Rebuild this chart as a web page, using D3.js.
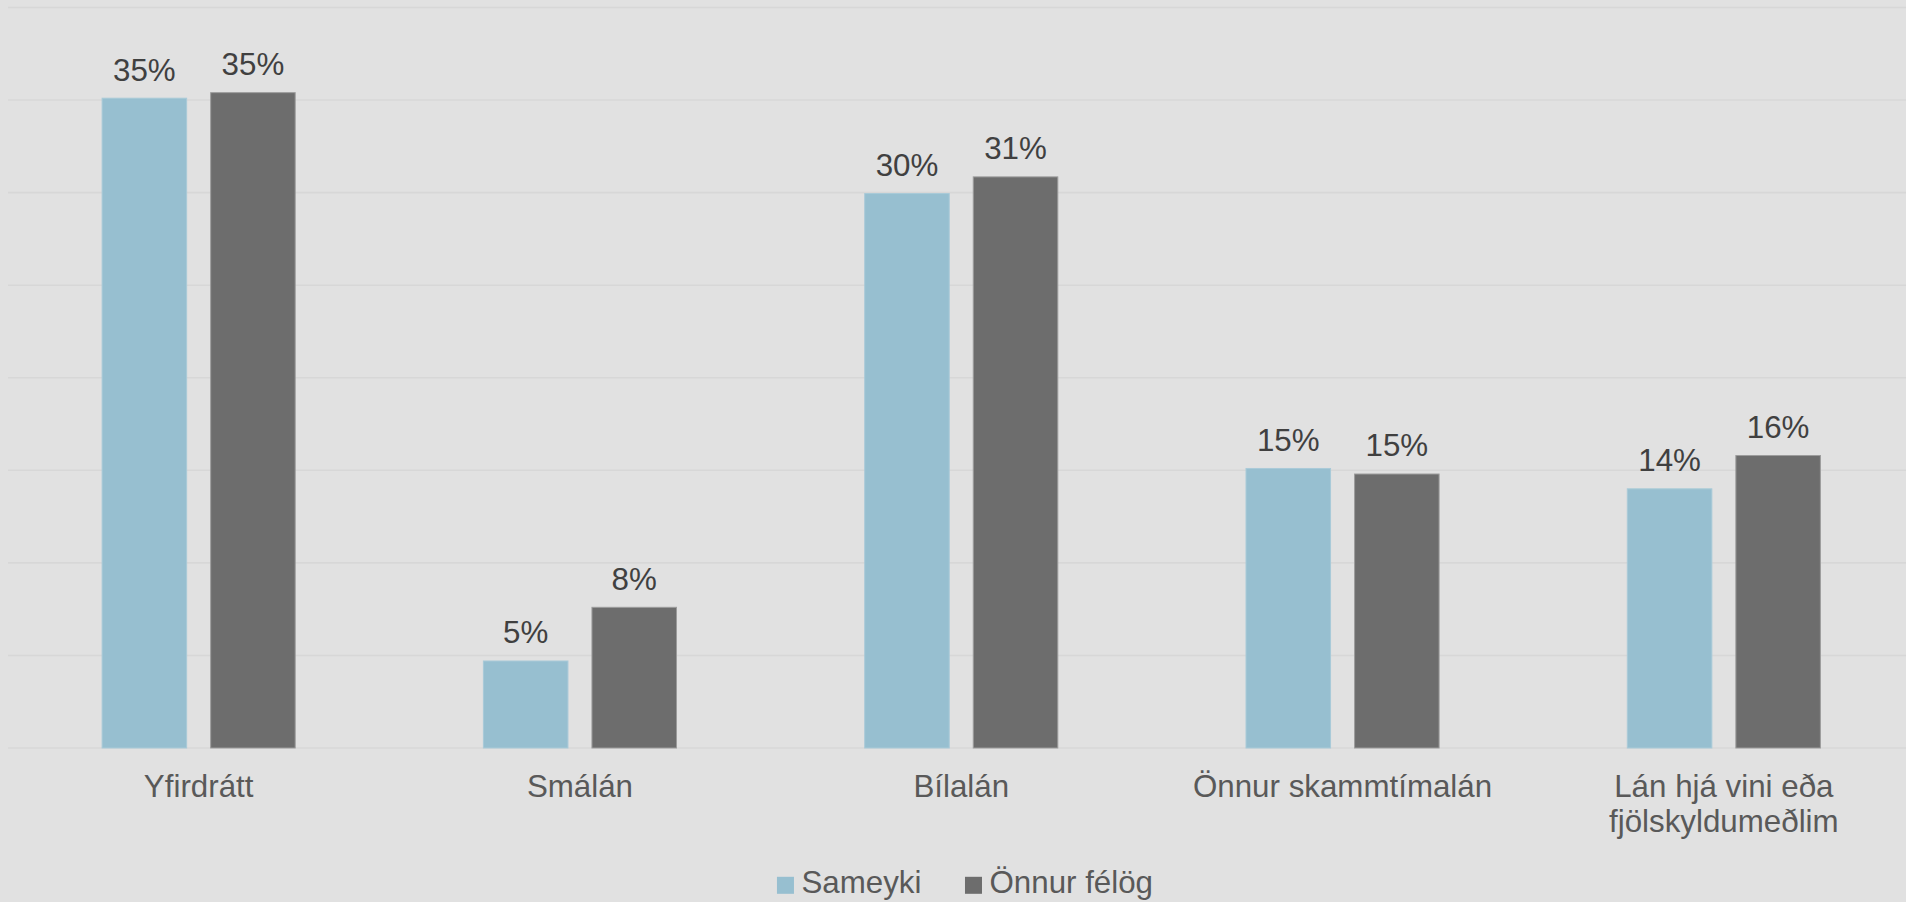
<!DOCTYPE html>
<html>
<head>
<meta charset="utf-8">
<script src="https://cdn.jsdelivr.net/npm/d3@7"></script>
<style>
  html, body { margin: 0; padding: 0; background: #e1e1e1; }
  svg { display: block; font-family: "Liberation Sans", Arial, sans-serif; }
</style>
</head>
<body>
<svg id="chart" width="1906" height="902"></svg>
<script>
const categories = ["Yfirdrátt", "Smálán", "Bílalán", "Önnur skammtímalán", "Lán hjá vini eða fjölskyldumeðlim"];
const seriesNames = ["Sameyki", "Önnur félög"];
const sameyki = [35.1, 4.7, 29.95, 15.1, 14.0];
const onnurFelog = [35.4, 7.6, 30.85, 14.8, 15.8];
const yTicks = [0, 5, 10, 15, 20, 25, 30, 35, 40];
const colors = ["#97bfd0", "#6d6d6d"];
const strokes = ["#a9cad8", "#9c9c9c"];

const W = 1906, H = 902;
const svg = d3.select("#chart");
svg.append("rect").attr("width", W).attr("height", H).attr("fill", "#e1e1e1");

const plotLeft = 8, step = 381.3;
const x0 = d3.scaleBand().domain(categories)
  .range([plotLeft, plotLeft + step * categories.length])
  .paddingInner(0.491).paddingOuter(0.2455);
const x1 = d3.scaleBand().domain(seriesNames)
  .range([0, x0.bandwidth()]).paddingInner(0.212).paddingOuter(0);
const y = d3.scaleLinear().domain([0, 40]).range([748, 7.5]);

// gridlines
svg.append("g").selectAll("line").data(yTicks).join("line")
  .attr("x1", plotLeft).attr("x2", W)
  .attr("y1", d => y(d)).attr("y2", d => y(d))
  .attr("stroke", "#d7d7d7").attr("stroke-width", 1.6);

const data = categories.map((c, i) => ({ cat: c, vals: [sameyki[i], onnurFelog[i]] }));

const groups = svg.append("g").selectAll("g").data(data).join("g")
  .attr("transform", d => `translate(${x0(d.cat)},0)`);

groups.selectAll("rect").data(d => d.vals.map((v, j) => ({ v, s: seriesNames[j], j })))
  .join("rect")
  .attr("x", d => x1(d.s) + 0.5)
  .attr("width", x1.bandwidth() - 1)
  .attr("y", d => y(d.v))
  .attr("height", d => y(0) - y(d.v))
  .attr("fill", d => colors[d.j])
  .attr("stroke", d => strokes[d.j])
  .attr("stroke-width", 1);

groups.selectAll("text.val").data(d => d.vals.map((v, j) => ({ v, s: seriesNames[j], j })))
  .join("text").attr("class", "val")
  .attr("x", d => x1(d.s) + x1.bandwidth() / 2)
  .attr("y", d => y(d.v) - 17.7)
  .attr("text-anchor", "middle")
  .attr("font-size", "31.3px")
  .attr("fill", "#404040")
  .text(d => Math.round(d.v) + "%");

// category labels with wrapping
const catG = svg.append("g");
categories.forEach(c => {
  const t = catG.append("text")
    .attr("x", x0(c) + x0.bandwidth() / 2)
    .attr("y", 797.3)
    .attr("text-anchor", "middle")
    .attr("font-size", "31.3px")
    .attr("fill", "#595959");
  const words = c.split(" ");
  let line = [];
  let tspan = t.append("tspan").attr("x", x0(c) + x0.bandwidth() / 2).attr("dy", 0);
  let lineNo = 0;
  words.forEach(w => {
    line.push(w);
    tspan.text(line.join(" "));
    if (tspan.node().getComputedTextLength() > 340 && line.length > 1) {
      line.pop();
      tspan.text(line.join(" "));
      line = [w];
      lineNo++;
      tspan = t.append("tspan").attr("x", x0(c) + x0.bandwidth() / 2).attr("dy", 35).text(w);
    }
  });
});

// legend
const legend = svg.append("g");
const items = [];
let cx = 0;
seriesNames.forEach((s, i) => {
  const g = legend.append("g");
  g.append("rect").attr("x", 0).attr("y", -16.5).attr("width", 17).attr("height", 17).attr("fill", colors[i]);
  const t = g.append("text").attr("x", 24.5).attr("y", 0).attr("font-size", "31.3px").attr("fill", "#595959").text(s);
  const w = 24.5 + t.node().getComputedTextLength();
  items.push({ g, x: cx });
  cx += w + 43.5;
});
const totalW = cx - 43.5;
const startX = 965 - totalW / 2;
items.forEach(it => it.g.attr("transform", `translate(${startX + it.x},893.3)`));
</script>
</body>
</html>
